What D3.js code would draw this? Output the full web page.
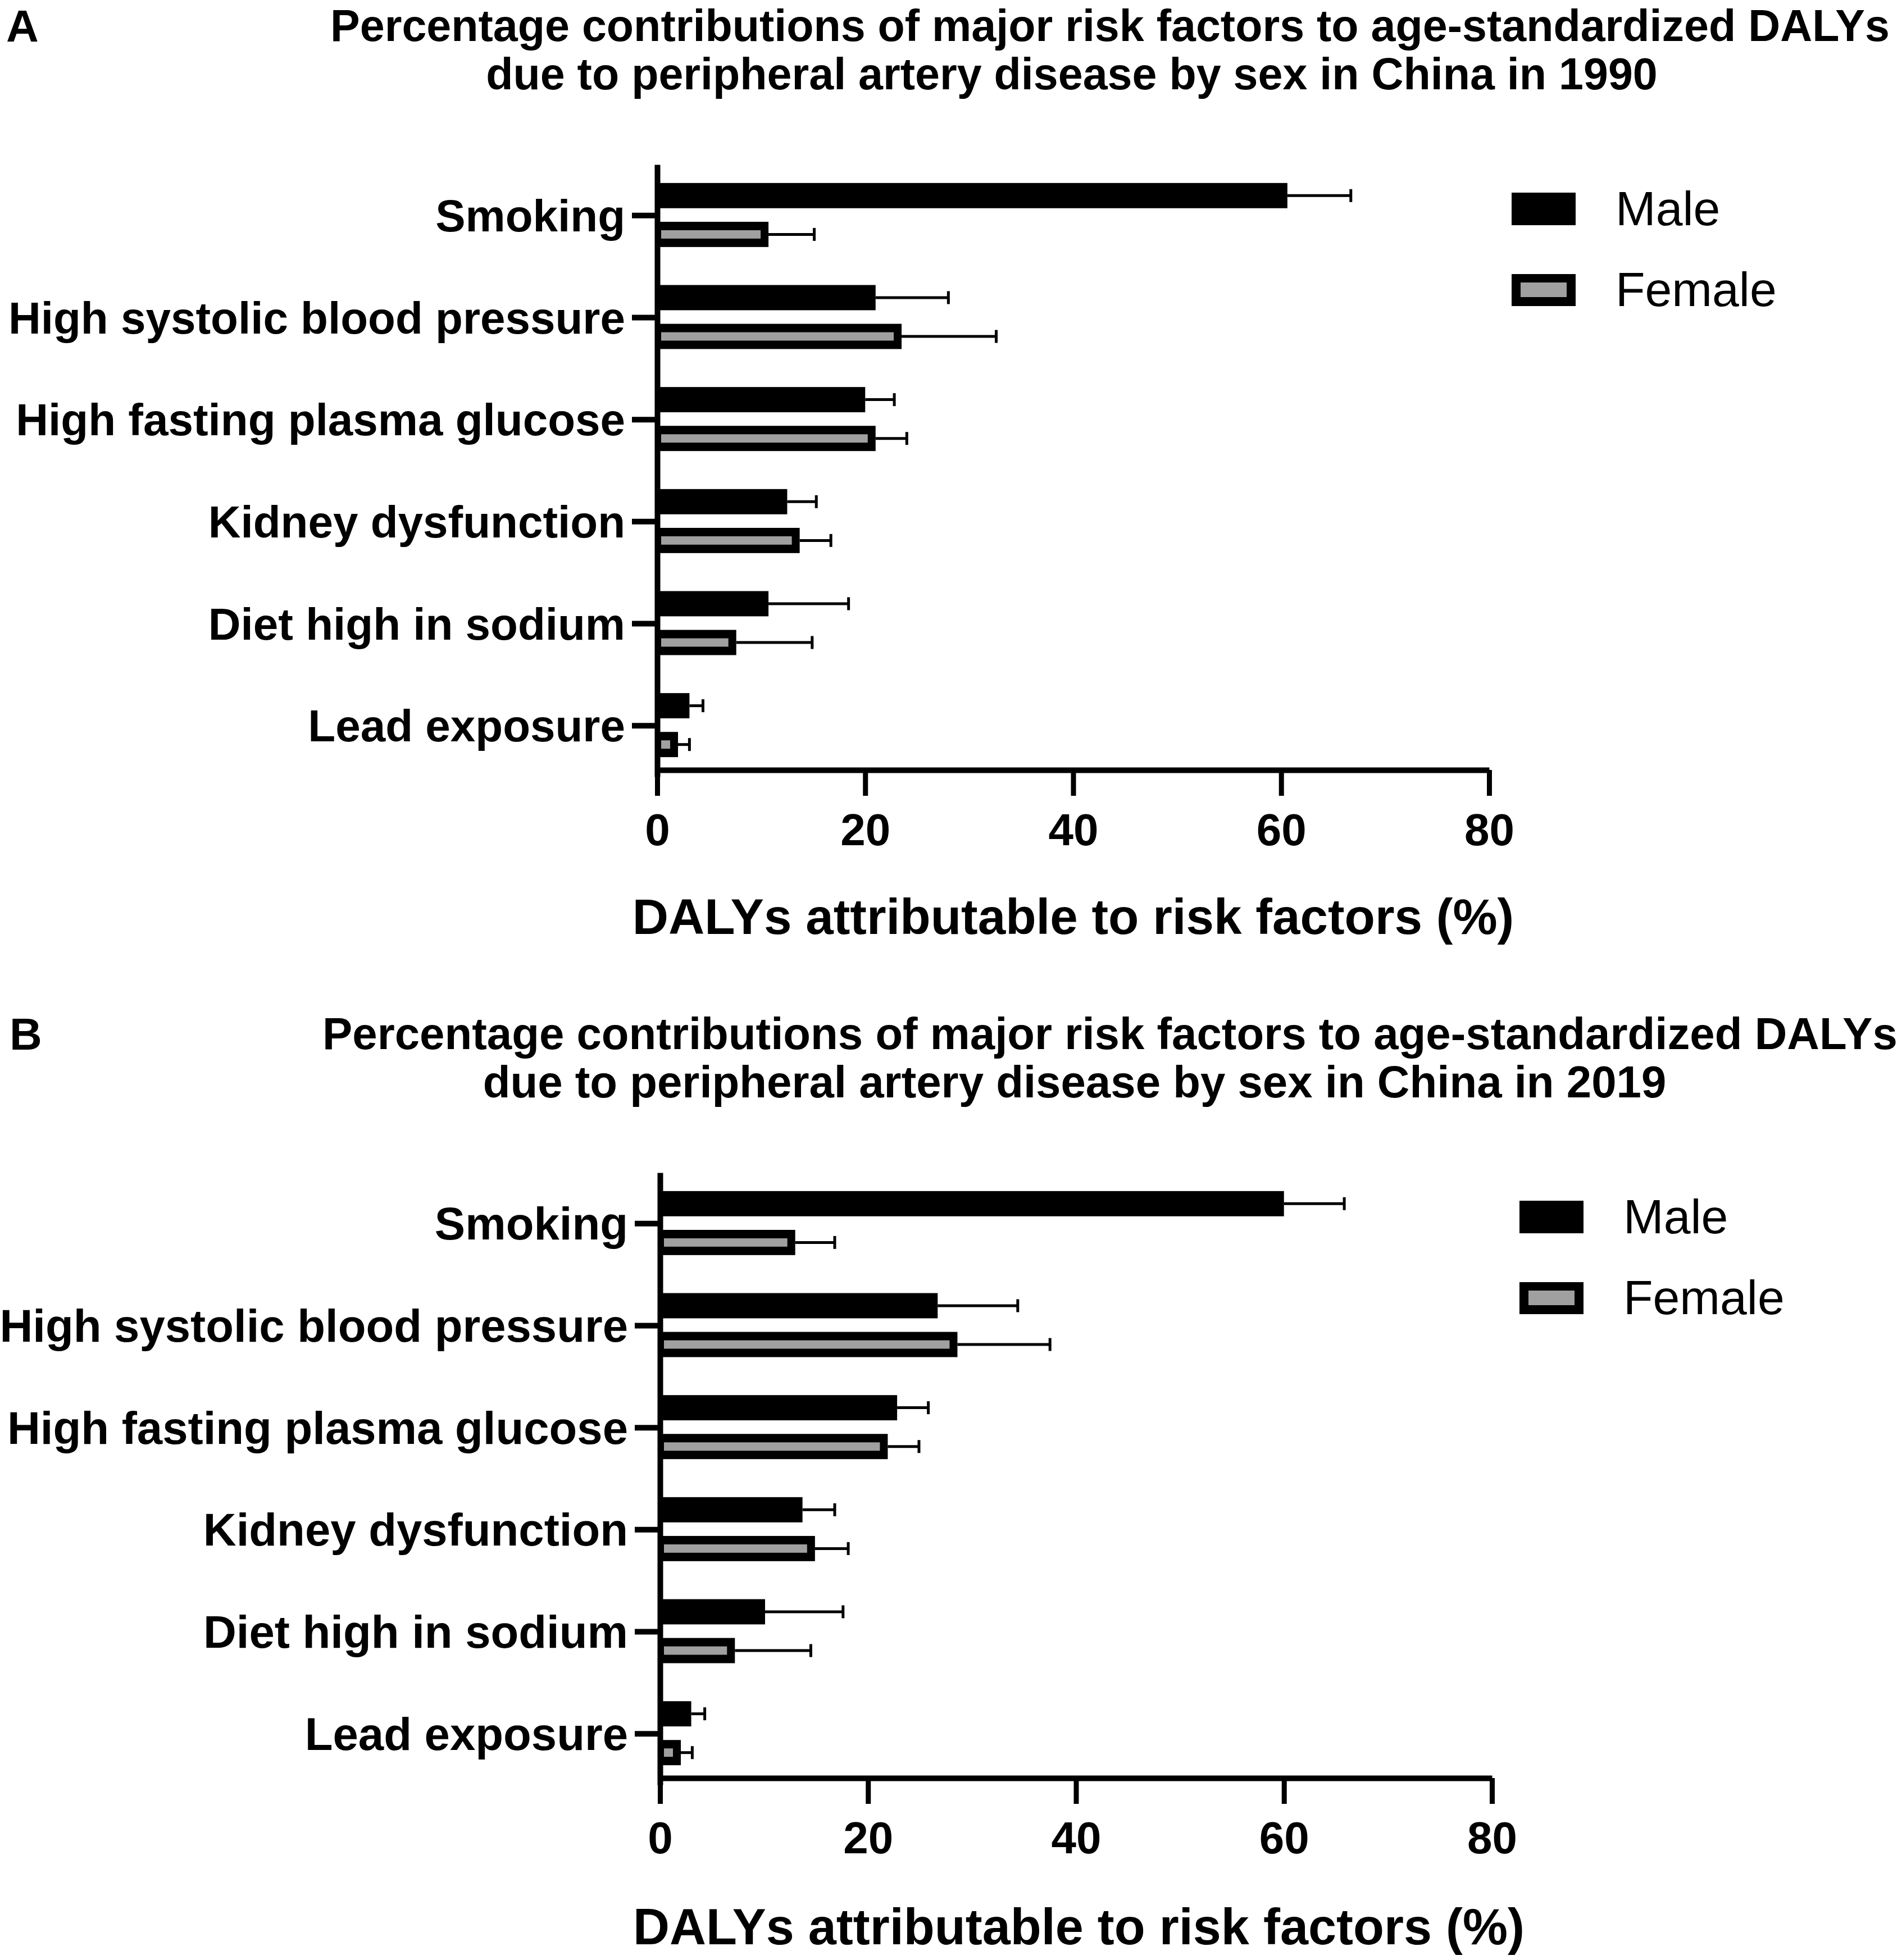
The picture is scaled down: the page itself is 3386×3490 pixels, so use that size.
<!DOCTYPE html>
<html>
<head>
<meta charset="utf-8">
<script src="https://cdn.jsdelivr.net/npm/d3@7"></script>
<style>
  body { margin: 0; background: #fff; }
  svg { display: block; }
</style>
</head>
<body>
<div id="chart"></div>
<script>
// values (percent of DALYs), bar value and top of error bar
const categories = [
  "Smoking",
  "High systolic blood pressure",
  "High fasting plasma glucose",
  "Kidney dysfunction",
  "Diet high in sodium",
  "Lead exposure"
];
const sexes = ["Male", "Female"];

const male1990 = [60.6, 21.0, 20.0, 12.5, 10.7, 3.1];
const male1990Upper = [66.7, 28.0, 22.8, 15.3, 18.4, 4.4];
const female1990 = [10.7, 23.5, 21.0, 13.7, 7.6, 2.0];
const female1990Upper = [15.1, 32.6, 24.0, 16.7, 14.9, 3.1];

const male2019 = [60.0, 26.7, 22.8, 13.7, 10.1, 3.0];
const male2019Upper = [65.8, 34.4, 25.8, 16.8, 17.6, 4.3];
const female2019 = [13.0, 28.6, 21.9, 14.9, 7.2, 2.0];
const female2019Upper = [16.8, 37.5, 24.9, 18.1, 14.5, 3.1];

const xTicks = [0, 20, 40, 60, 80];
const titleLine1 = "Percentage contributions of major risk factors to age-standardized DALYs";
const xTitle = "DALYs attributable to risk factors (%)";

const FONT = "'Liberation Sans', Arial, Helvetica, sans-serif";
const GREY = "#a0a0a0";

const width = 3386, height = 3490;

const svg = d3.select("#chart")
  .append("svg")
  .attr("width", width)
  .attr("height", height)
  .style("font-family", FONT);

svg.append("rect").attr("width", width).attr("height", height).attr("fill", "#fff");

// each panel is the same layout, moved down (and a touch right) for B
// B was exported a hair bigger, so its texts get slightly larger sizes
const panels = [
  { letter: "A", year: "1990", dx: 0, dy: 0, legendDx: 0, letterX: 11, titleSize: 79, labelSize: 80, xTitleSize: 89, xTitleDx: 0, xTitleDy: 0,
    male: male1990, maleUp: male1990Upper, female: female1990, femaleUp: female1990Upper },
  { letter: "B", year: "2019", dx: 5, dy: 1795, legendDx: 14, letterX: 12, titleSize: 79.8, labelSize: 81.5, xTitleSize: 90, xTitleDx: 5, xTitleDy: 4,
    male: male2019, maleUp: male2019Upper, female: female2019, femaleUp: female2019Upper }
];

panels.forEach(drawPanel);

function drawPanel(p) {
  const g = svg.append("g").attr("transform", `translate(${p.dx}, ${p.dy})`);

  //panel letter and two-line title
  g.append("text")
    .attr("x", p.letterX)
    .attr("y", 74)
    .attr("font-size", 80)
    .attr("font-weight", "bold")
    .text(p.letter);

  g.append("text")
    .attr("x", 1976 - p.dx)
    .attr("y", 73)
    .attr("text-anchor", "middle")
    .attr("font-size", p.titleSize)
    .attr("font-weight", "bold")
    .text(titleLine1);

  g.append("text")
    .attr("x", 1908)
    .attr("y", 159)
    .attr("text-anchor", "middle")
    .attr("font-size", p.titleSize)
    .attr("font-weight", "bold")
    .text("due to peripheral artery disease by sex in China in " + p.year);

  //scales
  const x = d3.scaleLinear().domain([0, 80]).range([1170, 2651]);
  const y = d3.scaleBand().domain(categories).range([293, 1383]);
  // male on top, female underneath inside each category band
  const ySub = d3.scaleBand().domain(sexes).range([-58, 56]).paddingInner(0.35);
  const barH = ySub.bandwidth();

  const rows = categories.map((c, i) => ({
    cat: c,
    male: p.male[i], maleUp: p.maleUp[i],
    female: p.female[i], femaleUp: p.femaleUp[i]
  }));

  const bars = g.append("g").attr("class", "bars");

  // male bars: solid black
  bars.selectAll("rect.male")
    .data(rows)
    .join("rect")
    .attr("class", "male")
    .attr("x", x(0))
    .attr("y", d => y(d.cat) + y.bandwidth() / 2 + ySub("Male"))
    .attr("width", d => x(d.male) - x(0))
    .attr("height", barH)
    .attr("fill", "#000");

  // female bars: thick black border, grey inside
  bars.selectAll("rect.female")
    .data(rows)
    .join("rect")
    .attr("class", "female")
    .attr("x", x(0))
    .attr("y", d => y(d.cat) + y.bandwidth() / 2 + ySub("Female"))
    .attr("width", d => x(d.female) - x(0))
    .attr("height", barH)
    .attr("fill", "#000");

  bars.selectAll("rect.femaleFill")
    .data(rows)
    .join("rect")
    .attr("class", "femaleFill")
    .attr("x", x(0) + 7)
    .attr("y", d => y(d.cat) + y.bandwidth() / 2 + ySub("Female") + 15)
    .attr("width", d => Math.max(0, x(d.female) - x(0) - 21))
    .attr("height", barH - 30)
    .attr("fill", GREY);

  //error bars, only the upper side is visible
  const errs = [];
  rows.forEach(d => {
    errs.push({ cat: d.cat, sex: "Male", v: d.male, up: d.maleUp });
    errs.push({ cat: d.cat, sex: "Female", v: d.female, up: d.femaleUp });
  });
  const errCy = d => y(d.cat) + y.bandwidth() / 2 + ySub(d.sex) + barH / 2;

  const eg = g.append("g").attr("class", "errors")
    .attr("stroke", "#000")
    .attr("stroke-width", 5);

  eg.selectAll("line.whisker")
    .data(errs)
    .join("line")
    .attr("class", "whisker")
    .attr("x1", d => x(d.v))
    .attr("x2", d => x(d.up))
    .attr("y1", errCy)
    .attr("y2", errCy);

  eg.selectAll("line.cap")
    .data(errs)
    .join("line")
    .attr("class", "cap")
    .attr("x1", d => x(d.up))
    .attr("x2", d => x(d.up))
    .attr("y1", d => errCy(d) - 11.5)
    .attr("y2", d => errCy(d) + 11.5);

  //axes
  const yAxis = g.append("g")
    .attr("transform", `translate(${x(0)}, 0)`)
    .call(d3.axisLeft(y).tickSize(45).tickSizeOuter(0).tickPadding(12));
  yAxis.select(".domain").attr("stroke-width", 10);
  yAxis.selectAll(".tick line").attr("stroke-width", 10);
  yAxis.selectAll(".tick text")
    .attr("font-size", p.labelSize)
    .attr("font-weight", "bold")
    .attr("font-family", FONT)
    .attr("fill", "#000")
    .attr("dy", "0.35em");

  const xAxis = g.append("g")
    .attr("transform", "translate(0, 1371)")
    .call(d3.axisBottom(x).tickValues(xTicks).tickSize(46).tickSizeOuter(0).tickPadding(31).tickFormat(d3.format("d")));
  xAxis.select(".domain").attr("stroke-width", 10);
  xAxis.selectAll(".tick line").attr("stroke-width", 9);
  xAxis.selectAll(".tick text")
    .attr("font-size", 80)
    .attr("font-weight", "bold")
    .attr("font-family", FONT)
    .attr("fill", "#000");

  g.append("text")
    .attr("x", (x(0) + x(80)) / 2 + p.xTitleDx)
    .attr("y", 1663 + p.xTitleDy)
    .attr("text-anchor", "middle")
    .attr("font-size", p.xTitleSize)
    .attr("font-weight", "bold")
    .text(xTitle);

  //legend
  const lg = g.append("g").attr("transform", `translate(${2691 + p.legendDx - p.dx}, 343)`);
  lg.append("rect").attr("x", 0).attr("y", 0).attr("width", 114).attr("height", 58).attr("fill", "#000");
  lg.append("text").attr("x", 185).attr("y", 58).attr("font-size", 86).text(sexes[0]);
  lg.append("rect").attr("x", 0).attr("y", 145).attr("width", 114).attr("height", 57).attr("fill", "#000");
  lg.append("rect").attr("x", 16).attr("y", 160).attr("width", 82).attr("height", 26).attr("fill", GREY);
  lg.append("text").attr("x", 185).attr("y", 202).attr("font-size", 86).text(sexes[1]);
}
</script>
</body>
</html>
